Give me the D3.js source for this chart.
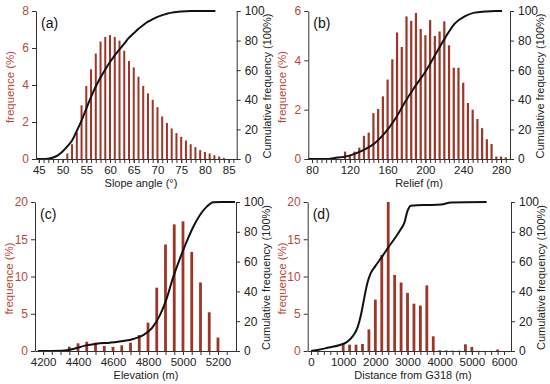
<!DOCTYPE html>
<html>
<head>
<meta charset="utf-8">
<script src="https://cdn.jsdelivr.net/npm/d3@7"></script>
<style>
  html, body { margin: 0; padding: 0; background: #fff; }
  svg { display: block; font-family: "Liberation Sans", Arial, sans-serif; }
</style>
</head>
<body>
<div id="chart"></div>
<script>
// (a) slope angle, bins of 1 degree
const slopeBins = [51, 52, 53, 54, 55, 56, 57, 58, 59, 60, 61, 62, 63, 64, 65, 66, 67,
    68, 69, 70, 71, 72, 73, 74, 75, 76, 77, 78, 79, 80, 81, 82, 83, 84];
const slopeFreq = [0.3, 0.8, 1.45, 2.9, 3.95, 4.85, 5.7, 6.35, 6.6, 6.7, 6.6, 6.4, 5.85,
    5.3, 4.95, 4.45, 3.95, 3.55, 3.2, 2.8, 2.3, 1.95, 1.65, 1.4, 1.2, 1.0, 0.8, 0.64,
    0.48, 0.38, 0.3, 0.2, 0.13, 0.06];
const slopeCum = [[44.4, 0], [46.5, 0], [48, 1], [49, 2.5], [50, 5], [51, 8.5], [52, 12.5],
    [53, 19], [54, 26], [55, 34], [56, 42], [57, 49], [58, 55], [59, 60.5], [60, 65.5],
    [61, 70], [62, 74], [63, 78], [64, 82], [65, 85], [66, 88], [67, 90.5], [68, 92.8],
    [69, 94.5], [70, 96], [71, 97.2], [72, 98.2], [73, 98.9], [74, 99.4], [75, 99.7],
    [77, 100], [82.2, 100]];
const slopeTicks = [45, 50, 55, 60, 65, 70, 75, 80, 85];

// (b) relief, bins of 5 m
const reliefBins = [115, 120, 125, 130, 135, 140, 145, 150, 155, 160, 165, 170, 175, 180,
    185, 190, 195, 200, 205, 210, 215, 220, 225, 230, 235, 240, 245, 250, 255, 260, 265,
    270, 275, 280, 285];
const reliefFreq = [0.3, 0.16, 0.3, 0.46, 0.94, 1.07, 1.86, 2.03, 2.54, 3.22, 4.04, 5.13,
    4.54, 5.78, 5.6, 5.92, 5.27, 5.02, 5.63, 4.99, 5.17, 5.58, 4.61, 3.7, 3.7, 3.09, 2.27,
    2.0, 1.62, 1.25, 0.8, 0.61, 0.1, 0.1, 0.07];
const reliefCum = [[76, 0], [95, 0], [104, 0.7], [115, 1.6], [125, 3.5], [136, 6.5],
    [147, 11], [157, 17.5], [168, 27], [178, 38], [189, 49], [200, 59], [210, 70],
    [221, 82], [231, 91.5], [242, 96.5], [252, 98.9], [263, 99.6], [274, 100], [281, 100]];
const reliefTicks = [80, 120, 160, 200, 240, 280];

// (c) elevation, bins of 50 m
const elevBins = [4350, 4400, 4450, 4500, 4550, 4600, 4650, 4700, 4750, 4800, 4850, 4900,
    4950, 5000, 5050, 5100, 5150, 5200];
const elevFreq = [0.58, 1.03, 1.25, 1.12, 0.67, 0.54, 0.76, 1.12, 2.15, 3.8, 8.5, 14.3,
    17.0, 17.4, 13.3, 9.2, 5.2, 1.8];
const elevCum = [[4170, 0], [4307, 0.2], [4373, 1.3], [4440, 3.6], [4507, 4.9], [4583, 5.6],
    [4659, 6.7], [4716, 8.1], [4773, 10.7], [4821, 15.2], [4869, 24.2], [4907, 35.3],
    [4945, 49.9], [4983, 62.2], [5021, 73.4], [5059, 83.4], [5097, 91.3], [5136, 96.9],
    [5173, 99.8], [5221, 100], [5297, 100]];
const elevTicks = [4200, 4400, 4600, 4800, 5000, 5200];

// (d) distance from G318, bins of 200 m
const distBins = [1000, 1200, 1400, 1600, 1800, 2000, 2200, 2400, 2600, 2800, 3000, 3200,
    3400, 3600, 3800, 4000, 4200, 4400, 4600, 4800, 5000, 5200, 5400, 5600, 5800];
const distFreq = [1.0, 0.85, 0.85, 0.94, 2.9, 6.9, 12.9, 20.0, 10.2, 9.2, 7.8, 6.35, 6.1,
    8.8, 1.97, 0.1, 0.08, 0.05, 0.05, 0.9, 0.55, 0.03, 0.02, 0.02, 0.2];
const distCum = [[0, 0], [250, 0.8], [550, 2.3], [900, 4], [1100, 5.8], [1300, 10],
    [1450, 16], [1550, 24], [1650, 35], [1750, 45.5], [1850, 52], [2000, 57], [2200, 63],
    [2400, 69.5], [2600, 75.5], [2800, 82], [2900, 86], [3000, 94], [3100, 97.5],
    [3300, 97.9], [3700, 98], [4050, 98.3], [4350, 99.7], [5460, 100]];
const distTicks = [0, 1000, 2000, 3000, 4000, 5000, 6000];

const cumTicks = [0, 20, 40, 60, 80, 100];

const barColor = "#9e3526";
const redText = "#b84a3a";

const svg = d3.select("#chart").append("svg")
    .attr("width", 550)
    .attr("height", 384);

const panels = [
    { tag: "(a)", x0: 36, x1: 236.7, top: 11, bottom: 159, domain: [44.4, 86.7],
      yMax: 8, yTicks: [0, 2, 4, 6, 8], minor: d3.range(45, 87, 1), ticks: slopeTicks,
      bins: slopeBins, freq: slopeFreq, cum: slopeCum, barW: 2, titleX: 141,
      title: "Slope angle (°)" },
    { tag: "(b)", x0: 308.3, x1: 510, top: 11, bottom: 159, domain: [76.1, 289.5],
      yMax: 6, yTicks: [0, 2, 4, 6], minor: d3.range(80, 290, 5), ticks: reliefTicks,
      bins: reliefBins, freq: reliefFreq, cum: reliefCum, barW: 2.2, titleX: 419,
      title: "Relief (m)" },
    { tag: "(c)", x0: 35, x1: 236, top: 202, bottom: 351, domain: [4154, 5303],
      yMax: 20, yTicks: [0, 5, 10, 15, 20], minor: d3.range(4200, 5300, 50), ticks: elevTicks,
      bins: elevBins, freq: elevFreq, cum: elevCum, barW: 2.8, titleX: 146,
      title: "Elevation (m)" },
    { tag: "(d)", x0: 307.7, x1: 511, top: 202, bottom: 351, domain: [-103, 6217],
      yMax: 20, yTicks: [0, 5, 10, 15, 20], minor: d3.range(0, 6200, 200), ticks: distTicks,
      bins: distBins, freq: distFreq, cum: distCum, barW: 2.8, titleX: 413,
      title: "Distance from G318 (m)" }
];

function drawPanel(p) {
    const x = d3.scaleLinear().domain(p.domain).range([p.x0, p.x1]);
    const y = d3.scaleLinear().domain([0, p.yMax]).range([p.bottom, p.top]);
    const yc = d3.scaleLinear().domain([0, 100]).range([p.bottom, p.top]);

    const g = svg.append("g");

    // bars
    g.selectAll(".bar")
        .data(p.bins.map((b, i) => ({ b: b, v: p.freq[i] })))
        .enter()
        .append("rect")
        .attr("x", d => x(d.b) - p.barW / 2)
        .attr("y", d => y(d.v))
        .attr("width", p.barW)
        .attr("height", d => y(0) - y(d.v))
        .attr("fill", barColor);

    // cumulative line
    const line = d3.line()
        .x(d => x(d[0]))
        .y(d => yc(d[1]))
        .curve(d3.curveMonotoneX);
    g.append("path")
        .datum(p.cum)
        .attr("d", line)
        .attr("fill", "none")
        .attr("stroke", "#111")
        .attr("stroke-width", 2);

    // x axis: minor ticks, then labelled ticks
    g.append("g")
        .attr("transform", `translate(0,${p.bottom})`)
        .call(d3.axisBottom(x).tickValues(p.minor).tickSize(4).tickFormat(""))
        .call(a => a.select(".domain").remove());
    const xa = g.append("g")
        .attr("transform", `translate(0,${p.bottom})`)
        .call(d3.axisBottom(x).tickValues(p.ticks).tickSize(4).tickSizeOuter(0)
            .tickPadding(3).tickFormat(d3.format("d")));
    xa.selectAll("text").style("font-size", "11.5px").attr("fill", "#222");

    // left axis
    const la = g.append("g")
        .attr("transform", `translate(${p.x0},0)`)
        .call(d3.axisLeft(y).tickValues(p.yTicks).tickSize(4).tickSizeOuter(0)
            .tickPadding(3).tickFormat(d3.format("d")));
    la.selectAll("text").style("font-size", "12px").attr("fill", redText);

    // right axis
    const ra = g.append("g")
        .attr("transform", `translate(${p.x1},0)`)
        .call(d3.axisRight(yc).tickValues(cumTicks).tickSize(4).tickSizeOuter(0)
            .tickPadding(4).tickFormat(d3.format("d")));
    ra.selectAll("text").style("font-size", "12px").attr("fill", "#222");

    g.selectAll(".domain, .tick line").attr("stroke", "#333");

    // titles
    g.append("text")
        .attr("x", p.titleX)
        .attr("y", p.bottom + 28)
        .attr("text-anchor", "middle")
        .style("font-size", "11px")
        .attr("fill", "#222")
        .text(p.title);

    g.append("text")
        .attr("transform", `translate(${p.x0 - 22},${(p.top + p.bottom) / 2 + 2}) rotate(-90)`)
        .attr("text-anchor", "middle")
        .style("font-size", "11.5px")
        .attr("fill", redText)
        .text("frequence (%)");

    g.append("text")
        .attr("transform", `translate(${p.x1 + 34},${(p.top + p.bottom) / 2 + 1}) rotate(-90)`)
        .attr("text-anchor", "middle")
        .style("font-size", "11px")
        .attr("fill", "#222")
        .text("Cumulative frequency (100%)");

    g.append("text")
        .attr("x", p.x0 + 5)
        .attr("y", p.top + 17)
        .style("font-size", "14px")
        .attr("fill", "#111")
        .text(p.tag);
}

panels.forEach(drawPanel);
</script>
</body>
</html>
